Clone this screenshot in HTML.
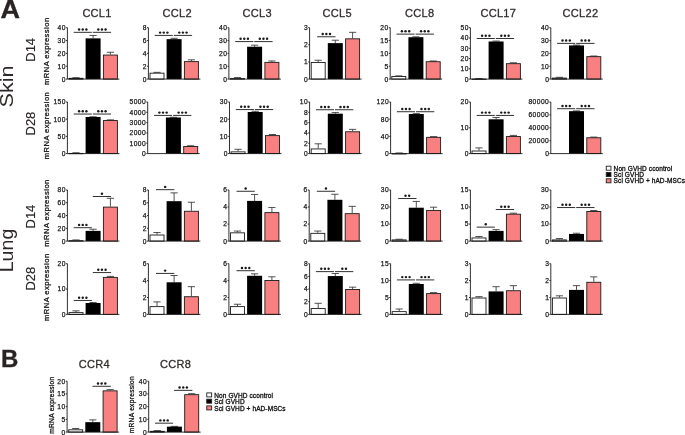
<!DOCTYPE html>
<html><head><meta charset="utf-8"><title>Figure</title><style>
html,body{margin:0;padding:0;background:#fff;}
svg{display:block;will-change:transform;}
text{font-family:"Liberation Sans", sans-serif;}
.tk{font-size:6.7px;text-anchor:end;fill:#1a1a1a;stroke:#1a1a1a;stroke-width:0.25px;letter-spacing:0.45px;}
.ti{font-size:11px;text-anchor:middle;fill:#332e2e;stroke:#332e2e;stroke-width:0.3px;letter-spacing:0.3px;}
.sd{fill:#1a1a1a;}
.pl{font-size:23px;font-weight:bold;fill:#2a2323;stroke:#2a2323;stroke-width:0.3px;}
.big{font-size:17.5px;text-anchor:middle;fill:#2e2828;}
.dl{font-size:12.3px;text-anchor:middle;fill:#2e2828;stroke:#2e2828;stroke-width:0.15px;}
.ml{font-size:7.6px;text-anchor:middle;fill:#111;letter-spacing:0.45px;stroke:#111;stroke-width:0.26px;}
.mlb{font-size:6.6px;letter-spacing:0.3px;}
.lg{font-size:6.5px;fill:#111;letter-spacing:0.1px;stroke:#111;stroke-width:0.3px;}
.ax{stroke:#1a1a1a;stroke-width:0.9;fill:none;}
.eb{stroke:#333;stroke-width:0.85;}
.sg{stroke:#1a1a1a;stroke-width:0.9;}
.bw{fill:#fff;stroke:#1a1a1a;stroke-width:0.9;}
.bb{fill:#000;}
.bp{fill:#F98080;stroke:#1a1a1a;stroke-width:0.9;}
</style></head>
<body><svg width="685" height="435" viewBox="0 0 685 435">
<rect width="685" height="435" fill="#fff"/>
<line x1="76" y1="77.69" x2="76" y2="77.81" class="eb"/>
<line x1="72.4" y1="77.69" x2="79.6" y2="77.69" class="eb"/>
<rect x="69" y="78.31" width="14" height="0.78" class="bw"/>
<line x1="93.1" y1="35.41" x2="93.1" y2="38.37" class="eb"/>
<line x1="89.5" y1="35.41" x2="96.7" y2="35.41" class="eb"/>
<rect x="85.6" y="38.37" width="15" height="40.73" class="bb"/>
<line x1="110.4" y1="52.24" x2="110.4" y2="54.56" class="eb"/>
<line x1="106.8" y1="52.24" x2="114" y2="52.24" class="eb"/>
<rect x="103.4" y="55.06" width="14" height="24.04" class="bp"/>
<path d="M67.4 27.7V79.1H119.4" class="ax"/>
<line x1="66" y1="79.1" x2="67.4" y2="79.1" class="ax"/>
<text x="65.9" y="81.5" class="tk">0</text>
<line x1="66" y1="66.25" x2="67.4" y2="66.25" class="ax"/>
<text x="65.9" y="68.65" class="tk">10</text>
<line x1="66" y1="53.4" x2="67.4" y2="53.4" class="ax"/>
<text x="65.9" y="55.8" class="tk">20</text>
<line x1="66" y1="40.55" x2="67.4" y2="40.55" class="ax"/>
<text x="65.9" y="42.95" class="tk">30</text>
<line x1="66" y1="27.7" x2="67.4" y2="27.7" class="ax"/>
<text x="65.9" y="30.1" class="tk">40</text>
<line x1="73.7" y1="32.33" x2="91.8" y2="32.33" class="sg"/>
<circle cx="79.1" cy="29.53" r="1.22" class="sd"/>
<circle cx="82.75" cy="29.53" r="1.22" class="sd"/>
<circle cx="86.4" cy="29.53" r="1.22" class="sd"/>
<line x1="92.8" y1="32.33" x2="111.1" y2="32.33" class="sg"/>
<circle cx="98.3" cy="29.53" r="1.22" class="sd"/>
<circle cx="101.95" cy="29.53" r="1.22" class="sd"/>
<circle cx="105.6" cy="29.53" r="1.22" class="sd"/>
<line x1="157" y1="72.35" x2="157" y2="72.67" class="eb"/>
<line x1="153.4" y1="72.35" x2="160.6" y2="72.35" class="eb"/>
<rect x="150" y="73.17" width="14" height="5.92" class="bw"/>
<line x1="174.1" y1="38.3" x2="174.1" y2="39.14" class="eb"/>
<line x1="170.5" y1="38.3" x2="177.7" y2="38.3" class="eb"/>
<rect x="166.6" y="39.14" width="15" height="39.96" class="bb"/>
<line x1="191.4" y1="59.82" x2="191.4" y2="61.11" class="eb"/>
<line x1="187.8" y1="59.82" x2="195" y2="59.82" class="eb"/>
<rect x="184.4" y="61.61" width="14" height="17.49" class="bp"/>
<path d="M148.4 27.7V79.1H200.4" class="ax"/>
<line x1="147" y1="79.1" x2="148.4" y2="79.1" class="ax"/>
<text x="146.9" y="81.5" class="tk">0</text>
<line x1="147" y1="66.25" x2="148.4" y2="66.25" class="ax"/>
<text x="146.9" y="68.65" class="tk">2</text>
<line x1="147" y1="53.4" x2="148.4" y2="53.4" class="ax"/>
<text x="146.9" y="55.8" class="tk">4</text>
<line x1="147" y1="40.55" x2="148.4" y2="40.55" class="ax"/>
<text x="146.9" y="42.95" class="tk">6</text>
<line x1="147" y1="27.7" x2="148.4" y2="27.7" class="ax"/>
<text x="146.9" y="30.1" class="tk">8</text>
<line x1="154.7" y1="35.41" x2="172.8" y2="35.41" class="sg"/>
<circle cx="160.1" cy="32.61" r="1.22" class="sd"/>
<circle cx="163.75" cy="32.61" r="1.22" class="sd"/>
<circle cx="167.4" cy="32.61" r="1.22" class="sd"/>
<line x1="173.8" y1="35.41" x2="192.1" y2="35.41" class="sg"/>
<circle cx="179.3" cy="32.61" r="1.22" class="sd"/>
<circle cx="182.95" cy="32.61" r="1.22" class="sd"/>
<circle cx="186.6" cy="32.61" r="1.22" class="sd"/>
<line x1="237.5" y1="77.56" x2="237.5" y2="78.07" class="eb"/>
<line x1="233.9" y1="77.56" x2="241.1" y2="77.56" class="eb"/>
<rect x="230.5" y="78.57" width="14" height="0.53" class="bw"/>
<line x1="254.6" y1="45.18" x2="254.6" y2="46.72" class="eb"/>
<line x1="251" y1="45.18" x2="258.2" y2="45.18" class="eb"/>
<rect x="247.1" y="46.72" width="15" height="32.38" class="bb"/>
<line x1="271.9" y1="60.98" x2="271.9" y2="61.88" class="eb"/>
<line x1="268.3" y1="60.98" x2="275.5" y2="60.98" class="eb"/>
<rect x="264.9" y="62.38" width="14" height="16.72" class="bp"/>
<path d="M228.9 27.7V79.1H280.9" class="ax"/>
<line x1="227.5" y1="79.1" x2="228.9" y2="79.1" class="ax"/>
<text x="227.4" y="81.5" class="tk">0</text>
<line x1="227.5" y1="66.25" x2="228.9" y2="66.25" class="ax"/>
<text x="227.4" y="68.65" class="tk">10</text>
<line x1="227.5" y1="53.4" x2="228.9" y2="53.4" class="ax"/>
<text x="227.4" y="55.8" class="tk">20</text>
<line x1="227.5" y1="40.55" x2="228.9" y2="40.55" class="ax"/>
<text x="227.4" y="42.95" class="tk">30</text>
<line x1="227.5" y1="27.7" x2="228.9" y2="27.7" class="ax"/>
<text x="227.4" y="30.1" class="tk">40</text>
<line x1="235.2" y1="41.58" x2="253.3" y2="41.58" class="sg"/>
<circle cx="240.6" cy="38.78" r="1.22" class="sd"/>
<circle cx="244.25" cy="38.78" r="1.22" class="sd"/>
<circle cx="247.9" cy="38.78" r="1.22" class="sd"/>
<line x1="254.3" y1="41.58" x2="272.6" y2="41.58" class="sg"/>
<circle cx="259.8" cy="38.78" r="1.22" class="sd"/>
<circle cx="263.45" cy="38.78" r="1.22" class="sd"/>
<circle cx="267.1" cy="38.78" r="1.22" class="sd"/>
<line x1="318.2" y1="60.25" x2="318.2" y2="61.97" class="eb"/>
<line x1="314.6" y1="60.25" x2="321.8" y2="60.25" class="eb"/>
<rect x="311.2" y="62.47" width="14" height="16.63" class="bw"/>
<line x1="335.3" y1="40.21" x2="335.3" y2="43.12" class="eb"/>
<line x1="331.7" y1="40.21" x2="338.9" y2="40.21" class="eb"/>
<rect x="327.8" y="43.12" width="15" height="35.98" class="bb"/>
<line x1="352.6" y1="32.33" x2="352.6" y2="38.32" class="eb"/>
<line x1="349" y1="32.33" x2="356.2" y2="32.33" class="eb"/>
<rect x="345.6" y="38.82" width="14" height="40.28" class="bp"/>
<path d="M309.6 27.7V79.1H361.6" class="ax"/>
<line x1="308.2" y1="79.1" x2="309.6" y2="79.1" class="ax"/>
<text x="308.1" y="81.5" class="tk">0</text>
<line x1="308.2" y1="61.97" x2="309.6" y2="61.97" class="ax"/>
<text x="308.1" y="64.37" class="tk">1</text>
<line x1="308.2" y1="44.83" x2="309.6" y2="44.83" class="ax"/>
<text x="308.1" y="47.23" class="tk">2</text>
<line x1="308.2" y1="27.7" x2="309.6" y2="27.7" class="ax"/>
<text x="308.1" y="30.1" class="tk">3</text>
<line x1="317.2" y1="36.78" x2="335.5" y2="36.78" class="sg"/>
<circle cx="322.7" cy="33.98" r="1.22" class="sd"/>
<circle cx="326.35" cy="33.98" r="1.22" class="sd"/>
<circle cx="330" cy="33.98" r="1.22" class="sd"/>
<line x1="398.8" y1="75.89" x2="398.8" y2="76.02" class="eb"/>
<line x1="395.2" y1="75.89" x2="402.4" y2="75.89" class="eb"/>
<rect x="391.8" y="76.52" width="14" height="2.58" class="bw"/>
<line x1="415.9" y1="36.82" x2="415.9" y2="37.21" class="eb"/>
<line x1="412.3" y1="36.82" x2="419.5" y2="36.82" class="eb"/>
<rect x="408.4" y="37.21" width="15" height="41.89" class="bb"/>
<line x1="433.2" y1="60.98" x2="433.2" y2="61.21" class="eb"/>
<line x1="429.6" y1="60.98" x2="436.8" y2="60.98" class="eb"/>
<rect x="426.2" y="61.71" width="14" height="17.39" class="bp"/>
<path d="M390.2 27.7V79.1H442.2" class="ax"/>
<line x1="388.8" y1="79.1" x2="390.2" y2="79.1" class="ax"/>
<text x="388.7" y="81.5" class="tk">0</text>
<line x1="388.8" y1="66.25" x2="390.2" y2="66.25" class="ax"/>
<text x="388.7" y="68.65" class="tk">5</text>
<line x1="388.8" y1="53.4" x2="390.2" y2="53.4" class="ax"/>
<text x="388.7" y="55.8" class="tk">10</text>
<line x1="388.8" y1="40.55" x2="390.2" y2="40.55" class="ax"/>
<text x="388.7" y="42.95" class="tk">15</text>
<line x1="388.8" y1="27.7" x2="390.2" y2="27.7" class="ax"/>
<text x="388.7" y="30.1" class="tk">20</text>
<line x1="396.5" y1="34.12" x2="414.6" y2="34.12" class="sg"/>
<circle cx="401.9" cy="31.32" r="1.22" class="sd"/>
<circle cx="405.55" cy="31.32" r="1.22" class="sd"/>
<circle cx="409.2" cy="31.32" r="1.22" class="sd"/>
<line x1="415.6" y1="34.12" x2="433.9" y2="34.12" class="sg"/>
<circle cx="421.1" cy="31.32" r="1.22" class="sd"/>
<circle cx="424.75" cy="31.32" r="1.22" class="sd"/>
<circle cx="428.4" cy="31.32" r="1.22" class="sd"/>
<line x1="479" y1="78.48" x2="479" y2="78.59" class="eb"/>
<line x1="475.4" y1="78.48" x2="482.6" y2="78.48" class="eb"/>
<rect x="472" y="79.09" width="14" height="0.3" class="bw"/>
<line x1="496.1" y1="41.06" x2="496.1" y2="41.48" class="eb"/>
<line x1="492.5" y1="41.06" x2="499.7" y2="41.06" class="eb"/>
<rect x="488.6" y="41.48" width="15" height="37.62" class="bb"/>
<line x1="513.4" y1="62.75" x2="513.4" y2="63.17" class="eb"/>
<line x1="509.8" y1="62.75" x2="517" y2="62.75" class="eb"/>
<rect x="506.4" y="63.67" width="14" height="15.43" class="bp"/>
<path d="M470.4 27.7V79.1H522.4" class="ax"/>
<line x1="469" y1="79.1" x2="470.4" y2="79.1" class="ax"/>
<text x="468.9" y="81.5" class="tk">0</text>
<line x1="469" y1="68.82" x2="470.4" y2="68.82" class="ax"/>
<text x="468.9" y="71.22" class="tk">10</text>
<line x1="469" y1="58.54" x2="470.4" y2="58.54" class="ax"/>
<text x="468.9" y="60.94" class="tk">20</text>
<line x1="469" y1="48.26" x2="470.4" y2="48.26" class="ax"/>
<text x="468.9" y="50.66" class="tk">30</text>
<line x1="469" y1="37.98" x2="470.4" y2="37.98" class="ax"/>
<text x="468.9" y="40.38" class="tk">40</text>
<line x1="469" y1="27.7" x2="470.4" y2="27.7" class="ax"/>
<text x="468.9" y="30.1" class="tk">50</text>
<line x1="476.7" y1="38.49" x2="494.8" y2="38.49" class="sg"/>
<circle cx="482.1" cy="35.69" r="1.22" class="sd"/>
<circle cx="485.75" cy="35.69" r="1.22" class="sd"/>
<circle cx="489.4" cy="35.69" r="1.22" class="sd"/>
<line x1="495.8" y1="38.49" x2="514.1" y2="38.49" class="sg"/>
<circle cx="501.3" cy="35.69" r="1.22" class="sd"/>
<circle cx="504.95" cy="35.69" r="1.22" class="sd"/>
<circle cx="508.6" cy="35.69" r="1.22" class="sd"/>
<line x1="559.4" y1="77.3" x2="559.4" y2="77.56" class="eb"/>
<line x1="555.8" y1="77.3" x2="563" y2="77.3" class="eb"/>
<rect x="552.4" y="78.06" width="14" height="1.04" class="bw"/>
<line x1="576.5" y1="45.05" x2="576.5" y2="45.43" class="eb"/>
<line x1="572.9" y1="45.05" x2="580.1" y2="45.05" class="eb"/>
<rect x="569" y="45.43" width="15" height="33.67" class="bb"/>
<line x1="593.8" y1="56.03" x2="593.8" y2="56.16" class="eb"/>
<line x1="590.2" y1="56.03" x2="597.4" y2="56.03" class="eb"/>
<rect x="586.8" y="56.66" width="14" height="22.44" class="bp"/>
<path d="M550.8 27.7V79.1H602.8" class="ax"/>
<line x1="549.4" y1="79.1" x2="550.8" y2="79.1" class="ax"/>
<text x="549.3" y="81.5" class="tk">0</text>
<line x1="549.4" y1="66.25" x2="550.8" y2="66.25" class="ax"/>
<text x="549.3" y="68.65" class="tk">10</text>
<line x1="549.4" y1="53.4" x2="550.8" y2="53.4" class="ax"/>
<text x="549.3" y="55.8" class="tk">20</text>
<line x1="549.4" y1="40.55" x2="550.8" y2="40.55" class="ax"/>
<text x="549.3" y="42.95" class="tk">30</text>
<line x1="549.4" y1="27.7" x2="550.8" y2="27.7" class="ax"/>
<text x="549.3" y="30.1" class="tk">40</text>
<line x1="557.1" y1="43.38" x2="575.2" y2="43.38" class="sg"/>
<circle cx="562.5" cy="40.58" r="1.22" class="sd"/>
<circle cx="566.15" cy="40.58" r="1.22" class="sd"/>
<circle cx="569.8" cy="40.58" r="1.22" class="sd"/>
<line x1="576.2" y1="43.38" x2="594.5" y2="43.38" class="sg"/>
<circle cx="581.7" cy="40.58" r="1.22" class="sd"/>
<circle cx="585.35" cy="40.58" r="1.22" class="sd"/>
<circle cx="589" cy="40.58" r="1.22" class="sd"/>
<line x1="76" y1="152.74" x2="76" y2="152.91" class="eb"/>
<line x1="72.4" y1="152.74" x2="79.6" y2="152.74" class="eb"/>
<rect x="69" y="153.41" width="14" height="0.3" class="bw"/>
<line x1="93.1" y1="116.79" x2="93.1" y2="116.96" class="eb"/>
<line x1="89.5" y1="116.79" x2="96.7" y2="116.79" class="eb"/>
<rect x="85.6" y="116.96" width="15" height="36.64" class="bb"/>
<line x1="110.4" y1="119.89" x2="110.4" y2="120.06" class="eb"/>
<line x1="106.8" y1="119.89" x2="114" y2="119.89" class="eb"/>
<rect x="103.4" y="120.56" width="14" height="33.04" class="bp"/>
<path d="M67.4 102V153.6H119.4" class="ax"/>
<line x1="66" y1="153.6" x2="67.4" y2="153.6" class="ax"/>
<text x="65.9" y="156" class="tk">0</text>
<line x1="66" y1="136.4" x2="67.4" y2="136.4" class="ax"/>
<text x="65.9" y="138.8" class="tk">50</text>
<line x1="66" y1="119.2" x2="67.4" y2="119.2" class="ax"/>
<text x="65.9" y="121.6" class="tk">100</text>
<line x1="66" y1="102" x2="67.4" y2="102" class="ax"/>
<text x="65.9" y="104.4" class="tk">150</text>
<line x1="73.7" y1="114.04" x2="91.8" y2="114.04" class="sg"/>
<circle cx="79.1" cy="111.24" r="1.22" class="sd"/>
<circle cx="82.75" cy="111.24" r="1.22" class="sd"/>
<circle cx="86.4" cy="111.24" r="1.22" class="sd"/>
<line x1="92.8" y1="114.04" x2="111.1" y2="114.04" class="sg"/>
<circle cx="98.3" cy="111.24" r="1.22" class="sd"/>
<circle cx="101.95" cy="111.24" r="1.22" class="sd"/>
<circle cx="105.6" cy="111.24" r="1.22" class="sd"/>
<line x1="173.4" y1="117.27" x2="173.4" y2="117.48" class="eb"/>
<line x1="169.8" y1="117.27" x2="177" y2="117.27" class="eb"/>
<rect x="165.9" y="117.48" width="15" height="36.12" class="bb"/>
<line x1="190.7" y1="145.76" x2="190.7" y2="146" class="eb"/>
<line x1="187.1" y1="145.76" x2="194.3" y2="145.76" class="eb"/>
<rect x="183.7" y="146.5" width="14" height="7.1" class="bp"/>
<path d="M147.7 102V153.6H199.7" class="ax"/>
<line x1="146.3" y1="153.6" x2="147.7" y2="153.6" class="ax"/>
<text x="146.2" y="156" class="tk">0</text>
<line x1="146.3" y1="143.28" x2="147.7" y2="143.28" class="ax"/>
<text x="146.2" y="145.68" class="tk">1000</text>
<line x1="146.3" y1="132.96" x2="147.7" y2="132.96" class="ax"/>
<text x="146.2" y="135.36" class="tk">2000</text>
<line x1="146.3" y1="122.64" x2="147.7" y2="122.64" class="ax"/>
<text x="146.2" y="125.04" class="tk">3000</text>
<line x1="146.3" y1="112.32" x2="147.7" y2="112.32" class="ax"/>
<text x="146.2" y="114.72" class="tk">4000</text>
<line x1="146.3" y1="102" x2="147.7" y2="102" class="ax"/>
<text x="146.2" y="104.4" class="tk">5000</text>
<line x1="154" y1="115.42" x2="172.1" y2="115.42" class="sg"/>
<circle cx="159.4" cy="112.62" r="1.22" class="sd"/>
<circle cx="163.05" cy="112.62" r="1.22" class="sd"/>
<circle cx="166.7" cy="112.62" r="1.22" class="sd"/>
<line x1="173.1" y1="115.42" x2="191.4" y2="115.42" class="sg"/>
<circle cx="178.6" cy="112.62" r="1.22" class="sd"/>
<circle cx="182.25" cy="112.62" r="1.22" class="sd"/>
<circle cx="185.9" cy="112.62" r="1.22" class="sd"/>
<line x1="238.1" y1="149.3" x2="238.1" y2="151.36" class="eb"/>
<line x1="234.5" y1="149.3" x2="241.7" y2="149.3" class="eb"/>
<rect x="231.1" y="151.86" width="14" height="1.74" class="bw"/>
<line x1="255.2" y1="111.29" x2="255.2" y2="111.98" class="eb"/>
<line x1="251.6" y1="111.29" x2="258.8" y2="111.29" class="eb"/>
<rect x="247.7" y="111.98" width="15" height="41.62" class="bb"/>
<line x1="272.5" y1="134.51" x2="272.5" y2="135.11" class="eb"/>
<line x1="268.9" y1="134.51" x2="276.1" y2="134.51" class="eb"/>
<rect x="265.5" y="135.61" width="14" height="17.99" class="bp"/>
<path d="M229.5 102V153.6H281.5" class="ax"/>
<line x1="228.1" y1="153.6" x2="229.5" y2="153.6" class="ax"/>
<text x="228" y="156" class="tk">0</text>
<line x1="228.1" y1="136.4" x2="229.5" y2="136.4" class="ax"/>
<text x="228" y="138.8" class="tk">10</text>
<line x1="228.1" y1="119.2" x2="229.5" y2="119.2" class="ax"/>
<text x="228" y="121.6" class="tk">20</text>
<line x1="228.1" y1="102" x2="229.5" y2="102" class="ax"/>
<text x="228" y="104.4" class="tk">30</text>
<line x1="235.8" y1="109.57" x2="253.9" y2="109.57" class="sg"/>
<circle cx="241.2" cy="106.77" r="1.22" class="sd"/>
<circle cx="244.85" cy="106.77" r="1.22" class="sd"/>
<circle cx="248.5" cy="106.77" r="1.22" class="sd"/>
<line x1="254.9" y1="109.57" x2="273.2" y2="109.57" class="sg"/>
<circle cx="260.4" cy="106.77" r="1.22" class="sd"/>
<circle cx="264.05" cy="106.77" r="1.22" class="sd"/>
<circle cx="267.7" cy="106.77" r="1.22" class="sd"/>
<line x1="318.2" y1="143.8" x2="318.2" y2="148.44" class="eb"/>
<line x1="314.6" y1="143.8" x2="321.8" y2="143.8" class="eb"/>
<rect x="311.2" y="148.94" width="14" height="4.66" class="bw"/>
<line x1="335.3" y1="112.58" x2="335.3" y2="113.71" class="eb"/>
<line x1="331.7" y1="112.58" x2="338.9" y2="112.58" class="eb"/>
<rect x="327.8" y="113.71" width="15" height="39.89" class="bb"/>
<line x1="352.6" y1="129.35" x2="352.6" y2="131.26" class="eb"/>
<line x1="349" y1="129.35" x2="356.2" y2="129.35" class="eb"/>
<rect x="345.6" y="131.76" width="14" height="21.84" class="bp"/>
<path d="M309.6 102V153.6H361.6" class="ax"/>
<line x1="308.2" y1="153.6" x2="309.6" y2="153.6" class="ax"/>
<text x="308.1" y="156" class="tk">0</text>
<line x1="308.2" y1="143.28" x2="309.6" y2="143.28" class="ax"/>
<text x="308.1" y="145.68" class="tk">2</text>
<line x1="308.2" y1="132.96" x2="309.6" y2="132.96" class="ax"/>
<text x="308.1" y="135.36" class="tk">4</text>
<line x1="308.2" y1="122.64" x2="309.6" y2="122.64" class="ax"/>
<text x="308.1" y="125.04" class="tk">6</text>
<line x1="308.2" y1="112.32" x2="309.6" y2="112.32" class="ax"/>
<text x="308.1" y="114.72" class="tk">8</text>
<line x1="308.2" y1="102" x2="309.6" y2="102" class="ax"/>
<text x="308.1" y="104.4" class="tk">10</text>
<line x1="315.9" y1="109.74" x2="334" y2="109.74" class="sg"/>
<circle cx="321.3" cy="106.94" r="1.22" class="sd"/>
<circle cx="324.95" cy="106.94" r="1.22" class="sd"/>
<circle cx="328.6" cy="106.94" r="1.22" class="sd"/>
<line x1="335" y1="109.74" x2="353.3" y2="109.74" class="sg"/>
<circle cx="340.5" cy="106.94" r="1.22" class="sd"/>
<circle cx="344.15" cy="106.94" r="1.22" class="sd"/>
<circle cx="347.8" cy="106.94" r="1.22" class="sd"/>
<line x1="399.2" y1="152.95" x2="399.2" y2="153.17" class="eb"/>
<line x1="395.6" y1="152.95" x2="402.8" y2="152.95" class="eb"/>
<rect x="392.2" y="153.67" width="14" height="0.3" class="bw"/>
<line x1="416.3" y1="113.61" x2="416.3" y2="114.04" class="eb"/>
<line x1="412.7" y1="113.61" x2="419.9" y2="113.61" class="eb"/>
<rect x="408.8" y="114.04" width="15" height="39.56" class="bb"/>
<line x1="433.6" y1="136.62" x2="433.6" y2="136.83" class="eb"/>
<line x1="430" y1="136.62" x2="437.2" y2="136.62" class="eb"/>
<rect x="426.6" y="137.33" width="14" height="16.27" class="bp"/>
<path d="M390.6 102V153.6H442.6" class="ax"/>
<line x1="389.2" y1="153.6" x2="390.6" y2="153.6" class="ax"/>
<text x="389.1" y="156" class="tk">0</text>
<line x1="389.2" y1="136.4" x2="390.6" y2="136.4" class="ax"/>
<text x="389.1" y="138.8" class="tk">40</text>
<line x1="389.2" y1="119.2" x2="390.6" y2="119.2" class="ax"/>
<text x="389.1" y="121.6" class="tk">80</text>
<line x1="389.2" y1="102" x2="390.6" y2="102" class="ax"/>
<text x="389.1" y="104.4" class="tk">120</text>
<line x1="396.9" y1="111.72" x2="415" y2="111.72" class="sg"/>
<circle cx="402.3" cy="108.92" r="1.22" class="sd"/>
<circle cx="405.95" cy="108.92" r="1.22" class="sd"/>
<circle cx="409.6" cy="108.92" r="1.22" class="sd"/>
<line x1="416" y1="111.72" x2="434.3" y2="111.72" class="sg"/>
<circle cx="421.5" cy="108.92" r="1.22" class="sd"/>
<circle cx="425.15" cy="108.92" r="1.22" class="sd"/>
<circle cx="428.8" cy="108.92" r="1.22" class="sd"/>
<line x1="479" y1="147.92" x2="479" y2="150.5" class="eb"/>
<line x1="475.4" y1="147.92" x2="482.6" y2="147.92" class="eb"/>
<rect x="472" y="151" width="14" height="2.6" class="bw"/>
<line x1="496.1" y1="117.48" x2="496.1" y2="119.29" class="eb"/>
<line x1="492.5" y1="117.48" x2="499.7" y2="117.48" class="eb"/>
<rect x="488.6" y="119.29" width="15" height="34.31" class="bb"/>
<line x1="513.4" y1="135.41" x2="513.4" y2="136.06" class="eb"/>
<line x1="509.8" y1="135.41" x2="517" y2="135.41" class="eb"/>
<rect x="506.4" y="136.56" width="14" height="17.04" class="bp"/>
<path d="M470.4 102V153.6H522.4" class="ax"/>
<line x1="469" y1="153.6" x2="470.4" y2="153.6" class="ax"/>
<text x="468.9" y="156" class="tk">0</text>
<line x1="469" y1="127.8" x2="470.4" y2="127.8" class="ax"/>
<text x="468.9" y="130.2" class="tk">10</text>
<line x1="469" y1="102" x2="470.4" y2="102" class="ax"/>
<text x="468.9" y="104.4" class="tk">20</text>
<line x1="476.7" y1="115.42" x2="494.8" y2="115.42" class="sg"/>
<circle cx="482.1" cy="112.62" r="1.22" class="sd"/>
<circle cx="485.75" cy="112.62" r="1.22" class="sd"/>
<circle cx="489.4" cy="112.62" r="1.22" class="sd"/>
<line x1="495.8" y1="115.42" x2="514.1" y2="115.42" class="sg"/>
<circle cx="501.3" cy="112.62" r="1.22" class="sd"/>
<circle cx="504.95" cy="112.62" r="1.22" class="sd"/>
<circle cx="508.6" cy="112.62" r="1.22" class="sd"/>
<line x1="576.5" y1="110.9" x2="576.5" y2="111.16" class="eb"/>
<line x1="572.9" y1="110.9" x2="580.1" y2="110.9" class="eb"/>
<rect x="569" y="111.16" width="15" height="42.44" class="bb"/>
<line x1="593.8" y1="137.09" x2="593.8" y2="137.28" class="eb"/>
<line x1="590.2" y1="137.09" x2="597.4" y2="137.09" class="eb"/>
<rect x="586.8" y="137.78" width="14" height="15.82" class="bp"/>
<path d="M550.8 102V153.6H602.8" class="ax"/>
<line x1="549.4" y1="153.6" x2="550.8" y2="153.6" class="ax"/>
<text x="549.3" y="156" class="tk">0</text>
<line x1="549.4" y1="140.7" x2="550.8" y2="140.7" class="ax"/>
<text x="549.3" y="143.1" class="tk">20000</text>
<line x1="549.4" y1="127.8" x2="550.8" y2="127.8" class="ax"/>
<text x="549.3" y="130.2" class="tk">40000</text>
<line x1="549.4" y1="114.9" x2="550.8" y2="114.9" class="ax"/>
<text x="549.3" y="117.3" class="tk">60000</text>
<line x1="549.4" y1="102" x2="550.8" y2="102" class="ax"/>
<text x="549.3" y="104.4" class="tk">80000</text>
<line x1="557.1" y1="108.71" x2="575.2" y2="108.71" class="sg"/>
<circle cx="562.5" cy="105.91" r="1.22" class="sd"/>
<circle cx="566.15" cy="105.91" r="1.22" class="sd"/>
<circle cx="569.8" cy="105.91" r="1.22" class="sd"/>
<line x1="576.2" y1="108.71" x2="594.5" y2="108.71" class="sg"/>
<circle cx="581.7" cy="105.91" r="1.22" class="sd"/>
<circle cx="585.35" cy="105.91" r="1.22" class="sd"/>
<circle cx="589" cy="105.91" r="1.22" class="sd"/>
<line x1="76" y1="239.95" x2="76" y2="240.14" class="eb"/>
<line x1="72.4" y1="239.95" x2="79.6" y2="239.95" class="eb"/>
<rect x="69" y="240.64" width="14" height="0.46" class="bw"/>
<line x1="93.1" y1="229.22" x2="93.1" y2="230.88" class="eb"/>
<line x1="89.5" y1="229.22" x2="96.7" y2="229.22" class="eb"/>
<rect x="85.6" y="230.88" width="15" height="10.22" class="bb"/>
<line x1="110.4" y1="198.3" x2="110.4" y2="206.61" class="eb"/>
<line x1="106.8" y1="198.3" x2="114" y2="198.3" class="eb"/>
<rect x="103.4" y="207.11" width="14" height="33.99" class="bp"/>
<path d="M67.4 190V241.1H119.4" class="ax"/>
<line x1="66" y1="241.1" x2="67.4" y2="241.1" class="ax"/>
<text x="65.9" y="243.5" class="tk">0</text>
<line x1="66" y1="228.32" x2="67.4" y2="228.32" class="ax"/>
<text x="65.9" y="230.72" class="tk">20</text>
<line x1="66" y1="215.55" x2="67.4" y2="215.55" class="ax"/>
<text x="65.9" y="217.95" class="tk">40</text>
<line x1="66" y1="202.78" x2="67.4" y2="202.78" class="ax"/>
<text x="65.9" y="205.18" class="tk">60</text>
<line x1="66" y1="190" x2="67.4" y2="190" class="ax"/>
<text x="65.9" y="192.4" class="tk">80</text>
<line x1="73.7" y1="227.69" x2="91.8" y2="227.69" class="sg"/>
<circle cx="79.1" cy="224.89" r="1.22" class="sd"/>
<circle cx="82.75" cy="224.89" r="1.22" class="sd"/>
<circle cx="86.4" cy="224.89" r="1.22" class="sd"/>
<line x1="92.8" y1="196.52" x2="111.1" y2="196.52" class="sg"/>
<circle cx="101.95" cy="193.72" r="1.22" class="sd"/>
<line x1="157" y1="232.54" x2="157" y2="234.52" class="eb"/>
<line x1="153.4" y1="232.54" x2="160.6" y2="232.54" class="eb"/>
<rect x="150" y="235.02" width="14" height="6.08" class="bw"/>
<line x1="174.1" y1="192.87" x2="174.1" y2="201.18" class="eb"/>
<line x1="170.5" y1="192.87" x2="177.7" y2="192.87" class="eb"/>
<rect x="166.6" y="201.18" width="15" height="39.92" class="bb"/>
<line x1="191.4" y1="202.26" x2="191.4" y2="210.76" class="eb"/>
<line x1="187.8" y1="202.26" x2="195" y2="202.26" class="eb"/>
<rect x="184.4" y="211.26" width="14" height="29.84" class="bp"/>
<path d="M148.4 190V241.1H200.4" class="ax"/>
<line x1="147" y1="241.1" x2="148.4" y2="241.1" class="ax"/>
<text x="146.9" y="243.5" class="tk">0</text>
<line x1="147" y1="228.32" x2="148.4" y2="228.32" class="ax"/>
<text x="146.9" y="230.72" class="tk">2</text>
<line x1="147" y1="215.55" x2="148.4" y2="215.55" class="ax"/>
<text x="146.9" y="217.95" class="tk">4</text>
<line x1="147" y1="202.78" x2="148.4" y2="202.78" class="ax"/>
<text x="146.9" y="205.18" class="tk">6</text>
<line x1="147" y1="190" x2="148.4" y2="190" class="ax"/>
<text x="146.9" y="192.4" class="tk">8</text>
<line x1="156" y1="189.68" x2="174.3" y2="189.68" class="sg"/>
<circle cx="165.15" cy="186.88" r="1.22" class="sd"/>
<line x1="237.5" y1="231.05" x2="237.5" y2="232.33" class="eb"/>
<line x1="233.9" y1="231.05" x2="241.1" y2="231.05" class="eb"/>
<rect x="230.5" y="232.83" width="14" height="8.27" class="bw"/>
<line x1="254.6" y1="194.43" x2="254.6" y2="200.9" class="eb"/>
<line x1="251" y1="194.43" x2="258.2" y2="194.43" class="eb"/>
<rect x="247.1" y="200.9" width="15" height="40.2" class="bb"/>
<line x1="271.9" y1="207.46" x2="271.9" y2="212.14" class="eb"/>
<line x1="268.3" y1="207.46" x2="275.5" y2="207.46" class="eb"/>
<rect x="264.9" y="212.64" width="14" height="28.46" class="bp"/>
<path d="M228.9 190V241.1H280.9" class="ax"/>
<line x1="227.5" y1="241.1" x2="228.9" y2="241.1" class="ax"/>
<text x="227.4" y="243.5" class="tk">0</text>
<line x1="227.5" y1="224.07" x2="228.9" y2="224.07" class="ax"/>
<text x="227.4" y="226.47" class="tk">2</text>
<line x1="227.5" y1="207.03" x2="228.9" y2="207.03" class="ax"/>
<text x="227.4" y="209.43" class="tk">4</text>
<line x1="227.5" y1="190" x2="228.9" y2="190" class="ax"/>
<text x="227.4" y="192.4" class="tk">6</text>
<line x1="236.5" y1="191.28" x2="254.8" y2="191.28" class="sg"/>
<circle cx="245.65" cy="188.48" r="1.22" class="sd"/>
<line x1="317.8" y1="231.05" x2="317.8" y2="232.84" class="eb"/>
<line x1="314.2" y1="231.05" x2="321.4" y2="231.05" class="eb"/>
<rect x="310.8" y="233.34" width="14" height="7.76" class="bw"/>
<line x1="334.9" y1="194.26" x2="334.9" y2="199.79" class="eb"/>
<line x1="331.3" y1="194.26" x2="338.5" y2="194.26" class="eb"/>
<rect x="327.4" y="199.79" width="15" height="41.31" class="bb"/>
<line x1="352.2" y1="206.35" x2="352.2" y2="213.17" class="eb"/>
<line x1="348.6" y1="206.35" x2="355.8" y2="206.35" class="eb"/>
<rect x="345.2" y="213.67" width="14" height="27.43" class="bp"/>
<path d="M309.2 190V241.1H361.2" class="ax"/>
<line x1="307.8" y1="241.1" x2="309.2" y2="241.1" class="ax"/>
<text x="307.7" y="243.5" class="tk">0</text>
<line x1="307.8" y1="224.07" x2="309.2" y2="224.07" class="ax"/>
<text x="307.7" y="226.47" class="tk">2</text>
<line x1="307.8" y1="207.03" x2="309.2" y2="207.03" class="ax"/>
<text x="307.7" y="209.43" class="tk">4</text>
<line x1="307.8" y1="190" x2="309.2" y2="190" class="ax"/>
<text x="307.7" y="192.4" class="tk">6</text>
<line x1="316.8" y1="191.28" x2="335.1" y2="191.28" class="sg"/>
<circle cx="325.95" cy="188.48" r="1.22" class="sd"/>
<line x1="399.2" y1="239.23" x2="399.2" y2="239.4" class="eb"/>
<line x1="395.6" y1="239.23" x2="402.8" y2="239.23" class="eb"/>
<rect x="392.2" y="239.9" width="14" height="1.2" class="bw"/>
<line x1="416.3" y1="201.41" x2="416.3" y2="207.71" class="eb"/>
<line x1="412.7" y1="201.41" x2="419.9" y2="201.41" class="eb"/>
<rect x="408.8" y="207.71" width="15" height="33.39" class="bb"/>
<line x1="433.6" y1="207.2" x2="433.6" y2="209.93" class="eb"/>
<line x1="430" y1="207.2" x2="437.2" y2="207.2" class="eb"/>
<rect x="426.6" y="210.43" width="14" height="30.67" class="bp"/>
<path d="M390.6 190V241.1H442.6" class="ax"/>
<line x1="389.2" y1="241.1" x2="390.6" y2="241.1" class="ax"/>
<text x="389.1" y="243.5" class="tk">0</text>
<line x1="389.2" y1="224.07" x2="390.6" y2="224.07" class="ax"/>
<text x="389.1" y="226.47" class="tk">10</text>
<line x1="389.2" y1="207.03" x2="390.6" y2="207.03" class="ax"/>
<text x="389.1" y="209.43" class="tk">20</text>
<line x1="389.2" y1="190" x2="390.6" y2="190" class="ax"/>
<text x="389.1" y="192.4" class="tk">30</text>
<line x1="398.2" y1="198.52" x2="416.5" y2="198.52" class="sg"/>
<circle cx="405.53" cy="195.72" r="1.22" class="sd"/>
<circle cx="409.18" cy="195.72" r="1.22" class="sd"/>
<line x1="479" y1="236.47" x2="479" y2="237.45" class="eb"/>
<line x1="475.4" y1="236.47" x2="482.6" y2="236.47" class="eb"/>
<rect x="472" y="237.95" width="14" height="3.15" class="bw"/>
<line x1="496.1" y1="229.65" x2="496.1" y2="230.88" class="eb"/>
<line x1="492.5" y1="229.65" x2="499.7" y2="229.65" class="eb"/>
<rect x="488.6" y="230.88" width="15" height="10.22" class="bb"/>
<line x1="513.4" y1="213.17" x2="513.4" y2="213.68" class="eb"/>
<line x1="509.8" y1="213.17" x2="517" y2="213.17" class="eb"/>
<rect x="506.4" y="214.18" width="14" height="26.92" class="bp"/>
<path d="M470.4 190V241.1H522.4" class="ax"/>
<line x1="469" y1="241.1" x2="470.4" y2="241.1" class="ax"/>
<text x="468.9" y="243.5" class="tk">0</text>
<line x1="469" y1="224.07" x2="470.4" y2="224.07" class="ax"/>
<text x="468.9" y="226.47" class="tk">5</text>
<line x1="469" y1="207.03" x2="470.4" y2="207.03" class="ax"/>
<text x="468.9" y="209.43" class="tk">10</text>
<line x1="469" y1="190" x2="470.4" y2="190" class="ax"/>
<text x="468.9" y="192.4" class="tk">15</text>
<line x1="476.7" y1="227.13" x2="494.8" y2="227.13" class="sg"/>
<circle cx="485.75" cy="224.33" r="1.22" class="sd"/>
<line x1="495.8" y1="209.52" x2="514.1" y2="209.52" class="sg"/>
<circle cx="501.3" cy="206.72" r="1.22" class="sd"/>
<circle cx="504.95" cy="206.72" r="1.22" class="sd"/>
<circle cx="508.6" cy="206.72" r="1.22" class="sd"/>
<line x1="559.4" y1="238.54" x2="559.4" y2="239.4" class="eb"/>
<line x1="555.8" y1="238.54" x2="563" y2="238.54" class="eb"/>
<rect x="552.4" y="239.9" width="14" height="1.2" class="bw"/>
<line x1="576.5" y1="233.26" x2="576.5" y2="233.95" class="eb"/>
<line x1="572.9" y1="233.26" x2="580.1" y2="233.26" class="eb"/>
<rect x="569" y="233.95" width="15" height="7.15" class="bb"/>
<line x1="593.8" y1="210.53" x2="593.8" y2="210.95" class="eb"/>
<line x1="590.2" y1="210.53" x2="597.4" y2="210.53" class="eb"/>
<rect x="586.8" y="211.45" width="14" height="29.65" class="bp"/>
<path d="M550.8 190V241.1H602.8" class="ax"/>
<line x1="549.4" y1="241.1" x2="550.8" y2="241.1" class="ax"/>
<text x="549.3" y="243.5" class="tk">0</text>
<line x1="549.4" y1="224.07" x2="550.8" y2="224.07" class="ax"/>
<text x="549.3" y="226.47" class="tk">10</text>
<line x1="549.4" y1="207.03" x2="550.8" y2="207.03" class="ax"/>
<text x="549.3" y="209.43" class="tk">20</text>
<line x1="549.4" y1="190" x2="550.8" y2="190" class="ax"/>
<text x="549.3" y="192.4" class="tk">30</text>
<line x1="557.1" y1="207.54" x2="575.2" y2="207.54" class="sg"/>
<circle cx="562.5" cy="204.74" r="1.22" class="sd"/>
<circle cx="566.15" cy="204.74" r="1.22" class="sd"/>
<circle cx="569.8" cy="204.74" r="1.22" class="sd"/>
<line x1="576.2" y1="207.54" x2="594.5" y2="207.54" class="sg"/>
<circle cx="581.7" cy="204.74" r="1.22" class="sd"/>
<circle cx="585.35" cy="204.74" r="1.22" class="sd"/>
<circle cx="589" cy="204.74" r="1.22" class="sd"/>
<line x1="76" y1="310.85" x2="76" y2="312.12" class="eb"/>
<line x1="72.4" y1="310.85" x2="79.6" y2="310.85" class="eb"/>
<rect x="69" y="312.62" width="14" height="1.78" class="bw"/>
<line x1="93.1" y1="302.49" x2="93.1" y2="302.99" class="eb"/>
<line x1="89.5" y1="302.49" x2="96.7" y2="302.49" class="eb"/>
<rect x="85.6" y="302.99" width="15" height="11.41" class="bb"/>
<line x1="110.4" y1="276.38" x2="110.4" y2="276.88" class="eb"/>
<line x1="106.8" y1="276.38" x2="114" y2="276.38" class="eb"/>
<rect x="103.4" y="277.38" width="14" height="37.02" class="bp"/>
<path d="M67.4 263.7V314.4H119.4" class="ax"/>
<line x1="66" y1="314.4" x2="67.4" y2="314.4" class="ax"/>
<text x="65.9" y="316.8" class="tk">0</text>
<line x1="66" y1="289.05" x2="67.4" y2="289.05" class="ax"/>
<text x="65.9" y="291.45" class="tk">10</text>
<line x1="66" y1="263.7" x2="67.4" y2="263.7" class="ax"/>
<text x="65.9" y="266.1" class="tk">20</text>
<line x1="73.7" y1="300.46" x2="91.8" y2="300.46" class="sg"/>
<circle cx="79.1" cy="297.66" r="1.22" class="sd"/>
<circle cx="82.75" cy="297.66" r="1.22" class="sd"/>
<circle cx="86.4" cy="297.66" r="1.22" class="sd"/>
<line x1="92.8" y1="272.57" x2="111.1" y2="272.57" class="sg"/>
<circle cx="98.3" cy="269.77" r="1.22" class="sd"/>
<circle cx="101.95" cy="269.77" r="1.22" class="sd"/>
<circle cx="105.6" cy="269.77" r="1.22" class="sd"/>
<line x1="157" y1="301.89" x2="157" y2="306.12" class="eb"/>
<line x1="153.4" y1="301.89" x2="160.6" y2="301.89" class="eb"/>
<rect x="150" y="306.62" width="14" height="7.78" class="bw"/>
<line x1="174.1" y1="275.53" x2="174.1" y2="282.29" class="eb"/>
<line x1="170.5" y1="275.53" x2="177.7" y2="275.53" class="eb"/>
<rect x="166.6" y="282.29" width="15" height="32.11" class="bb"/>
<line x1="191.4" y1="286.68" x2="191.4" y2="296.23" class="eb"/>
<line x1="187.8" y1="286.68" x2="195" y2="286.68" class="eb"/>
<rect x="184.4" y="296.73" width="14" height="17.67" class="bp"/>
<path d="M148.4 263.7V314.4H200.4" class="ax"/>
<line x1="147" y1="314.4" x2="148.4" y2="314.4" class="ax"/>
<text x="146.9" y="316.8" class="tk">0</text>
<line x1="147" y1="297.5" x2="148.4" y2="297.5" class="ax"/>
<text x="146.9" y="299.9" class="tk">2</text>
<line x1="147" y1="280.6" x2="148.4" y2="280.6" class="ax"/>
<text x="146.9" y="283" class="tk">4</text>
<line x1="147" y1="263.7" x2="148.4" y2="263.7" class="ax"/>
<text x="146.9" y="266.1" class="tk">6</text>
<line x1="156" y1="273.42" x2="174.3" y2="273.42" class="sg"/>
<circle cx="165.15" cy="270.62" r="1.22" class="sd"/>
<line x1="237.5" y1="304.26" x2="237.5" y2="306.12" class="eb"/>
<line x1="233.9" y1="304.26" x2="241.1" y2="304.26" class="eb"/>
<rect x="230.5" y="306.62" width="14" height="7.78" class="bw"/>
<line x1="254.6" y1="273.84" x2="254.6" y2="275.78" class="eb"/>
<line x1="251" y1="273.84" x2="258.2" y2="273.84" class="eb"/>
<rect x="247.1" y="275.78" width="15" height="38.62" class="bb"/>
<line x1="271.9" y1="276.8" x2="271.9" y2="280.01" class="eb"/>
<line x1="268.3" y1="276.8" x2="275.5" y2="276.8" class="eb"/>
<rect x="264.9" y="280.51" width="14" height="33.89" class="bp"/>
<path d="M228.9 263.7V314.4H280.9" class="ax"/>
<line x1="227.5" y1="314.4" x2="228.9" y2="314.4" class="ax"/>
<text x="227.4" y="316.8" class="tk">0</text>
<line x1="227.5" y1="297.5" x2="228.9" y2="297.5" class="ax"/>
<text x="227.4" y="299.9" class="tk">2</text>
<line x1="227.5" y1="280.6" x2="228.9" y2="280.6" class="ax"/>
<text x="227.4" y="283" class="tk">4</text>
<line x1="227.5" y1="263.7" x2="228.9" y2="263.7" class="ax"/>
<text x="227.4" y="266.1" class="tk">6</text>
<line x1="236.5" y1="270.71" x2="254.8" y2="270.71" class="sg"/>
<circle cx="242" cy="267.91" r="1.22" class="sd"/>
<circle cx="245.65" cy="267.91" r="1.22" class="sd"/>
<circle cx="249.3" cy="267.91" r="1.22" class="sd"/>
<line x1="318.2" y1="303.31" x2="318.2" y2="308.06" class="eb"/>
<line x1="314.6" y1="303.31" x2="321.8" y2="303.31" class="eb"/>
<rect x="311.2" y="308.56" width="14" height="5.84" class="bw"/>
<line x1="335.3" y1="273.52" x2="335.3" y2="276.06" class="eb"/>
<line x1="331.7" y1="273.52" x2="338.9" y2="273.52" class="eb"/>
<rect x="327.8" y="276.06" width="15" height="38.34" class="bb"/>
<line x1="352.6" y1="287.15" x2="352.6" y2="289.05" class="eb"/>
<line x1="349" y1="287.15" x2="356.2" y2="287.15" class="eb"/>
<rect x="345.6" y="289.55" width="14" height="24.85" class="bp"/>
<path d="M309.6 263.7V314.4H361.6" class="ax"/>
<line x1="308.2" y1="314.4" x2="309.6" y2="314.4" class="ax"/>
<text x="308.1" y="316.8" class="tk">0</text>
<line x1="308.2" y1="301.72" x2="309.6" y2="301.72" class="ax"/>
<text x="308.1" y="304.12" class="tk">2</text>
<line x1="308.2" y1="289.05" x2="309.6" y2="289.05" class="ax"/>
<text x="308.1" y="291.45" class="tk">4</text>
<line x1="308.2" y1="276.38" x2="309.6" y2="276.38" class="ax"/>
<text x="308.1" y="278.77" class="tk">6</text>
<line x1="308.2" y1="263.7" x2="309.6" y2="263.7" class="ax"/>
<text x="308.1" y="266.1" class="tk">8</text>
<line x1="315.9" y1="271.62" x2="334" y2="271.62" class="sg"/>
<circle cx="321.3" cy="268.82" r="1.22" class="sd"/>
<circle cx="324.95" cy="268.82" r="1.22" class="sd"/>
<circle cx="328.6" cy="268.82" r="1.22" class="sd"/>
<line x1="335" y1="271.62" x2="353.3" y2="271.62" class="sg"/>
<circle cx="342.32" cy="268.82" r="1.22" class="sd"/>
<circle cx="345.97" cy="268.82" r="1.22" class="sd"/>
<line x1="399.2" y1="308.99" x2="399.2" y2="311.12" class="eb"/>
<line x1="395.6" y1="308.99" x2="402.8" y2="308.99" class="eb"/>
<rect x="392.2" y="311.62" width="14" height="2.78" class="bw"/>
<line x1="416.3" y1="283.3" x2="416.3" y2="283.98" class="eb"/>
<line x1="412.7" y1="283.3" x2="419.9" y2="283.3" class="eb"/>
<rect x="408.8" y="283.98" width="15" height="30.42" class="bb"/>
<line x1="433.6" y1="292.6" x2="433.6" y2="293.11" class="eb"/>
<line x1="430" y1="292.6" x2="437.2" y2="292.6" class="eb"/>
<rect x="426.6" y="293.61" width="14" height="20.79" class="bp"/>
<path d="M390.6 263.7V314.4H442.6" class="ax"/>
<line x1="389.2" y1="314.4" x2="390.6" y2="314.4" class="ax"/>
<text x="389.1" y="316.8" class="tk">0</text>
<line x1="389.2" y1="297.5" x2="390.6" y2="297.5" class="ax"/>
<text x="389.1" y="299.9" class="tk">5</text>
<line x1="389.2" y1="280.6" x2="390.6" y2="280.6" class="ax"/>
<text x="389.1" y="283" class="tk">10</text>
<line x1="389.2" y1="263.7" x2="390.6" y2="263.7" class="ax"/>
<text x="389.1" y="266.1" class="tk">15</text>
<line x1="396.9" y1="279.92" x2="415" y2="279.92" class="sg"/>
<circle cx="402.3" cy="277.12" r="1.22" class="sd"/>
<circle cx="405.95" cy="277.12" r="1.22" class="sd"/>
<circle cx="409.6" cy="277.12" r="1.22" class="sd"/>
<line x1="416" y1="279.92" x2="434.3" y2="279.92" class="sg"/>
<circle cx="421.5" cy="277.12" r="1.22" class="sd"/>
<circle cx="425.15" cy="277.12" r="1.22" class="sd"/>
<circle cx="428.8" cy="277.12" r="1.22" class="sd"/>
<line x1="479" y1="296.65" x2="479" y2="297.5" class="eb"/>
<line x1="475.4" y1="296.65" x2="482.6" y2="296.65" class="eb"/>
<rect x="472" y="298" width="14" height="16.4" class="bw"/>
<line x1="496.1" y1="286.68" x2="496.1" y2="291.42" class="eb"/>
<line x1="492.5" y1="286.68" x2="499.7" y2="286.68" class="eb"/>
<rect x="488.6" y="291.42" width="15" height="22.98" class="bb"/>
<line x1="513.4" y1="285.67" x2="513.4" y2="290.23" class="eb"/>
<line x1="509.8" y1="285.67" x2="517" y2="285.67" class="eb"/>
<rect x="506.4" y="290.73" width="14" height="23.67" class="bp"/>
<path d="M470.4 263.7V314.4H522.4" class="ax"/>
<line x1="469" y1="314.4" x2="470.4" y2="314.4" class="ax"/>
<text x="468.9" y="316.8" class="tk">0</text>
<line x1="469" y1="297.5" x2="470.4" y2="297.5" class="ax"/>
<text x="468.9" y="299.9" class="tk">1</text>
<line x1="469" y1="280.6" x2="470.4" y2="280.6" class="ax"/>
<text x="468.9" y="283" class="tk">2</text>
<line x1="469" y1="263.7" x2="470.4" y2="263.7" class="ax"/>
<text x="468.9" y="266.1" class="tk">3</text>
<line x1="559.4" y1="295.81" x2="559.4" y2="297.5" class="eb"/>
<line x1="555.8" y1="295.81" x2="563" y2="295.81" class="eb"/>
<rect x="552.4" y="298" width="14" height="16.4" class="bw"/>
<line x1="576.5" y1="285.67" x2="576.5" y2="289.89" class="eb"/>
<line x1="572.9" y1="285.67" x2="580.1" y2="285.67" class="eb"/>
<rect x="569" y="289.89" width="15" height="24.5" class="bb"/>
<line x1="593.8" y1="276.88" x2="593.8" y2="281.78" class="eb"/>
<line x1="590.2" y1="276.88" x2="597.4" y2="276.88" class="eb"/>
<rect x="586.8" y="282.28" width="14" height="32.12" class="bp"/>
<path d="M550.8 263.7V314.4H602.8" class="ax"/>
<line x1="549.4" y1="314.4" x2="550.8" y2="314.4" class="ax"/>
<text x="549.3" y="316.8" class="tk">0</text>
<line x1="549.4" y1="297.5" x2="550.8" y2="297.5" class="ax"/>
<text x="549.3" y="299.9" class="tk">1</text>
<line x1="549.4" y1="280.6" x2="550.8" y2="280.6" class="ax"/>
<text x="549.3" y="283" class="tk">2</text>
<line x1="549.4" y1="263.7" x2="550.8" y2="263.7" class="ax"/>
<text x="549.3" y="266.1" class="tk">3</text>
<line x1="75.7" y1="428.54" x2="75.7" y2="429.3" class="eb"/>
<line x1="72.1" y1="428.54" x2="79.3" y2="428.54" class="eb"/>
<rect x="68.7" y="429.8" width="14" height="2.3" class="bw"/>
<line x1="92.8" y1="419.88" x2="92.8" y2="422.17" class="eb"/>
<line x1="89.2" y1="419.88" x2="96.4" y2="419.88" class="eb"/>
<rect x="85.3" y="422.17" width="15" height="9.93" class="bb"/>
<line x1="110.1" y1="389.6" x2="110.1" y2="390.36" class="eb"/>
<line x1="106.5" y1="389.6" x2="113.7" y2="389.6" class="eb"/>
<rect x="103.1" y="390.86" width="14" height="41.24" class="bp"/>
<path d="M67.1 381.2V432.1H119.1" class="ax"/>
<line x1="65.7" y1="432.1" x2="67.1" y2="432.1" class="ax"/>
<text x="65.6" y="434.5" class="tk">0</text>
<line x1="65.7" y1="419.38" x2="67.1" y2="419.38" class="ax"/>
<text x="65.6" y="421.77" class="tk">5</text>
<line x1="65.7" y1="406.65" x2="67.1" y2="406.65" class="ax"/>
<text x="65.6" y="409.05" class="tk">10</text>
<line x1="65.7" y1="393.93" x2="67.1" y2="393.93" class="ax"/>
<text x="65.6" y="396.32" class="tk">15</text>
<line x1="65.7" y1="381.2" x2="67.1" y2="381.2" class="ax"/>
<text x="65.6" y="383.6" class="tk">20</text>
<line x1="92.5" y1="386.29" x2="110.8" y2="386.29" class="sg"/>
<circle cx="98" cy="383.49" r="1.22" class="sd"/>
<circle cx="101.65" cy="383.49" r="1.22" class="sd"/>
<circle cx="105.3" cy="383.49" r="1.22" class="sd"/>
<line x1="157.3" y1="430.57" x2="157.3" y2="430.83" class="eb"/>
<line x1="153.7" y1="430.57" x2="160.9" y2="430.57" class="eb"/>
<rect x="150.3" y="431.33" width="14" height="0.77" class="bw"/>
<line x1="174.4" y1="426.37" x2="174.4" y2="426.63" class="eb"/>
<line x1="170.8" y1="426.37" x2="178" y2="426.37" class="eb"/>
<rect x="166.9" y="426.63" width="15" height="5.47" class="bb"/>
<line x1="191.7" y1="393.67" x2="191.7" y2="394.18" class="eb"/>
<line x1="188.1" y1="393.67" x2="195.3" y2="393.67" class="eb"/>
<rect x="184.7" y="394.68" width="14" height="37.42" class="bp"/>
<path d="M148.7 381.2V432.1H200.7" class="ax"/>
<line x1="147.3" y1="432.1" x2="148.7" y2="432.1" class="ax"/>
<text x="147.2" y="434.5" class="tk">0</text>
<line x1="147.3" y1="419.38" x2="148.7" y2="419.38" class="ax"/>
<text x="147.2" y="421.77" class="tk">10</text>
<line x1="147.3" y1="406.65" x2="148.7" y2="406.65" class="ax"/>
<text x="147.2" y="409.05" class="tk">20</text>
<line x1="147.3" y1="393.93" x2="148.7" y2="393.93" class="ax"/>
<text x="147.2" y="396.32" class="tk">30</text>
<line x1="147.3" y1="381.2" x2="148.7" y2="381.2" class="ax"/>
<text x="147.2" y="383.6" class="tk">40</text>
<line x1="155" y1="423.19" x2="173.1" y2="423.19" class="sg"/>
<circle cx="160.4" cy="420.39" r="1.22" class="sd"/>
<circle cx="164.05" cy="420.39" r="1.22" class="sd"/>
<circle cx="167.7" cy="420.39" r="1.22" class="sd"/>
<line x1="174.1" y1="390.36" x2="192.4" y2="390.36" class="sg"/>
<circle cx="179.6" cy="387.56" r="1.22" class="sd"/>
<circle cx="183.25" cy="387.56" r="1.22" class="sd"/>
<circle cx="186.9" cy="387.56" r="1.22" class="sd"/>
<text x="97.05" y="16.9" class="ti">CCL1</text>
<text x="177.25" y="16.9" class="ti">CCL2</text>
<text x="257.25" y="16.9" class="ti">CCL3</text>
<text x="337.15" y="16.9" class="ti">CCL5</text>
<text x="419.65" y="16.9" class="ti">CCL8</text>
<text x="498.35" y="16.9" class="ti">CCL17</text>
<text x="580.45" y="16.9" class="ti">CCL22</text>
<text x="94.3" y="368" class="ti">CCR4</text>
<text x="175.5" y="367.8" class="ti">CCR8</text>
<text transform="translate(0.4,17.8) scale(1.08,1)" class="pl" style="font-size:25px">A</text>
<text x="0.9" y="367.0" class="pl" style="font-size:24px">B</text>
<text transform="translate(12.8,86.5) rotate(-90) scale(1.235,1)" class="big">Skin</text>
<text transform="translate(13.3,250.5) rotate(-90) scale(1.12,1)" class="big">Lung</text>
<text transform="translate(34.8,49.85) rotate(-90) scale(1.05,1)" class="dl">D14</text>
<text transform="translate(34.8,123.55) rotate(-90) scale(1.05,1)" class="dl">D28</text>
<text transform="translate(34.8,216.55) rotate(-90) scale(1.05,1)" class="dl">D14</text>
<text transform="translate(34.8,278.75) rotate(-90) scale(1.05,1)" class="dl">D28</text>
<text transform="translate(49.3,51.2) rotate(-90)" class="ml">mRNA expression</text>
<text transform="translate(49.3,125.5) rotate(-90)" class="ml">mRNA expression</text>
<text transform="translate(49.3,213) rotate(-90)" class="ml">mRNA expression</text>
<text transform="translate(49.3,287.2) rotate(-90)" class="ml">mRNA expression</text>
<text transform="translate(53.6,405.1) rotate(-90)" class="ml mlb">mRNA expression</text>
<text transform="translate(134.4,404.6) rotate(-90)" class="ml mlb">mRNA expression</text>
<rect x="606.25" y="166.2" width="4.7" height="4" fill="#fff" stroke="#222" stroke-width="0.9"/>
<text x="613.6" y="170.8" class="lg">Non GVHD ccontrol</text>
<rect x="606.25" y="172.55" width="4.7" height="4" fill="#000" stroke="#222" stroke-width="0.9"/>
<text x="613.6" y="177.15" class="lg">Scl GVHD</text>
<rect x="606.25" y="178.8" width="4.7" height="4" fill="#F98080" stroke="#222" stroke-width="0.9"/>
<text x="613.6" y="183.4" class="lg">Scl GVHD + hAD-MSCs</text>
<rect x="206.75" y="392.9" width="4.9" height="4" fill="#fff" stroke="#222" stroke-width="0.9"/>
<text x="214.3" y="397.5" class="lg">Non GVHD ccontrol</text>
<rect x="206.75" y="399.2" width="4.9" height="4" fill="#000" stroke="#222" stroke-width="0.9"/>
<text x="214.3" y="403.8" class="lg">Scl GVHD</text>
<rect x="206.75" y="405.9" width="4.9" height="4" fill="#F98080" stroke="#222" stroke-width="0.9"/>
<text x="214.3" y="410.5" class="lg">Scl GVHD + hAD-MSCs</text>
</svg></body></html>
